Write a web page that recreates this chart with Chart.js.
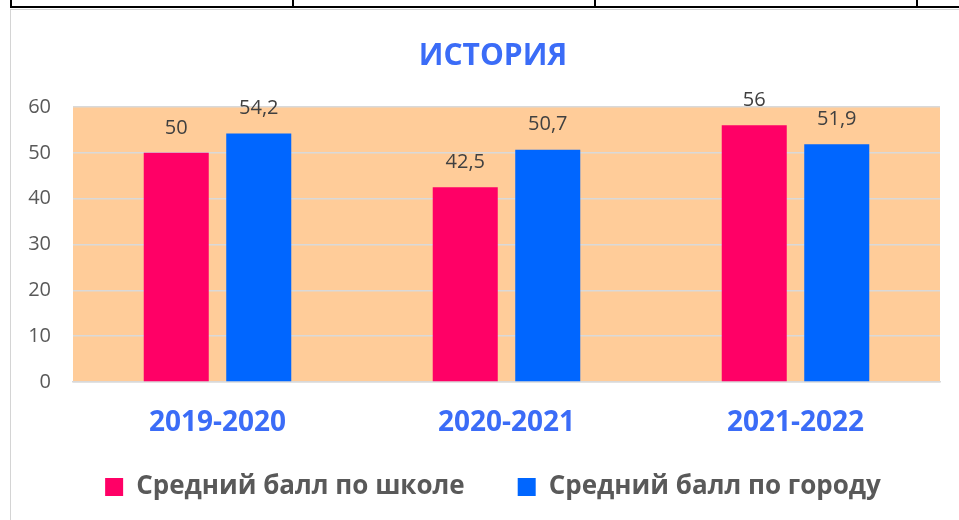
<!DOCTYPE html>
<html>
<head>
<meta charset="utf-8">
<script src="https://cdn.jsdelivr.net/npm/chart.js@4"></script>
<style>
  body { margin: 0; background: #fff; }
  #wrap { position: relative; width: 959px; height: 520px; overflow: hidden; }
  .tline { position: absolute; top: 0; height: 6px; border-top: none; border-bottom: 2px solid #000; }
  .vline { position: absolute; top: 0; width: 2px; height: 7px; background: #000; }
  #box { position: absolute; left: 10px; top: 9px; width: 960px; height: 520px; border-left: 1px solid #d4d4d4; border-top: 1px solid #d4d4d4; }
  canvas { position: absolute; left: 0; top: 0; }
</style>
</head>
<body>
<div id="wrap">
  <div class="tline" style="left:10px;width:949px;"></div>
  <div class="vline" style="left:10px;"></div>
  <div class="vline" style="left:292px;"></div>
  <div class="vline" style="left:594px;"></div>
  <div class="vline" style="left:916px;"></div>
  <div id="box"></div>
  <canvas id="histChart" width="959" height="520"></canvas>
</div>
<script>
// school years on the x axis
const years = ['2019-2020', '2020-2021', '2021-2022'];
// average score of the school
const schoolScores = [50, 42.5, 56];
// average score of the city
const cityScores = [54.2, 50.7, 51.9];
const yTicks = [0, 10, 20, 30, 40, 50, 60];

const FONT = "'Open Sans', 'DejaVu Sans', sans-serif";

// peach background behind the bars
const plotBackground = {
  id: 'plotBackground',
  beforeDraw(chart) {
    const { ctx, chartArea } = chart;
    ctx.save();
    ctx.fillStyle = '#FFCC99';
    ctx.fillRect(chartArea.left, chartArea.top, chartArea.right - chartArea.left, chartArea.bottom - chartArea.top);
    ctx.restore();
  }
};

// value above each bar, with a comma as decimal mark
const barValues = {
  id: 'barValues',
  afterDatasetsDraw(chart) {
    const { ctx } = chart;
    ctx.save();
    ctx.font = '20px ' + FONT;
    ctx.fillStyle = '#404040';
    ctx.textAlign = 'center';
    ctx.textBaseline = 'middle';
    chart.data.datasets.forEach((ds, i) => {
      chart.getDatasetMeta(i).data.forEach((bar, j) => {
        const txt = String(ds.data[j]).replace('.', ',');
        ctx.fillText(txt, bar.x, bar.y - 25);
      });
    });
    ctx.restore();
  }
};

// the scales are squeezed below, so let their labels draw outside the scale box
function noLabelClip(scale) {
  scale._computeLabelArea = () => null;
}

new Chart(document.getElementById('histChart').getContext('2d'), {
  type: 'bar',
  data: {
    labels: years,
    datasets: [
      {
        label: 'Средний балл по школе',
        data: schoolScores,
        backgroundColor: '#FF0066',
        categoryPercentage: 0.571,
        barPercentage: 0.788
      },
      {
        label: 'Средний балл по городу',
        data: cityScores,
        backgroundColor: '#0066FF',
        categoryPercentage: 0.571,
        barPercentage: 0.788
      }
    ]
  },
  options: {
    responsive: false,
    animation: false,
    // left padding shifts the title and legend centre to the right like the original
    layout: { padding: { left: 46, right: 19, top: 0, bottom: 10 } },
    plugins: {
      title: {
        display: true,
        text: 'ИСТОРИЯ',
        color: '#3B6CF7',
        font: { family: FONT, size: 30, weight: 'bold' },
        padding: { top: 38, bottom: 33 }
      },
      legend: {
        position: 'bottom',
        labels: {
          boxWidth: 18,
          boxHeight: 18,
          padding: 53,
          color: '#595959',
          font: { family: FONT, size: 26, weight: 'bold' }
        }
      },
      tooltip: { enabled: false }
    },
    scales: {
      x: {
        afterFit(scale) { scale.height = 39; noLabelClip(scale); },
        grid: { display: false, drawTicks: false },
        border: { display: true, color: '#d9d9d9', width: 1.5 },
        ticks: {
          color: '#3B6CF7',
          padding: 24,
          font: { family: FONT, size: 28, weight: 'bold' }
        }
      },
      y: {
        min: 0,
        max: 60,
        afterFit(scale) { scale.width = 27; noLabelClip(scale); },
        afterBuildTicks(scale) { scale.ticks = yTicks.map(v => ({ value: v })); },
        grid: { color: '#d9d9d9', lineWidth: 1.5, drawTicks: false },
        border: { display: false },
        ticks: {
          color: '#595959',
          padding: 22,
          font: { family: FONT, size: 20 }
        }
      }
    }
  },
  plugins: [plotBackground, barValues]
});
</script>
</body>
</html>
